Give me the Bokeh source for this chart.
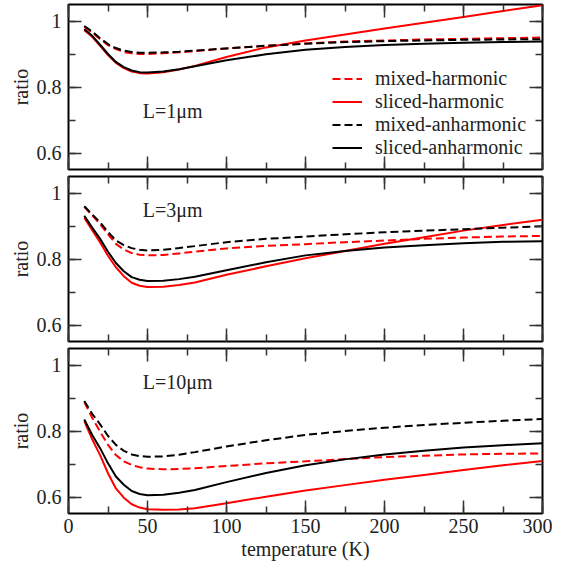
from bokeh.plotting import figure
from bokeh.layouts import column
from bokeh.models import (LinearAxis, FixedTicker, CustomJSTickFormatter, Legend,
                          LegendItem, Range1d, CustomLabelingPolicy)
from bokeh.core.properties import value
from bokeh.embed import file_html
from bokeh.resources import INLINE

# ---------------- data ----------------
temperature = [10, 15, 20, 25, 30, 35, 40, 45, 50, 60, 70, 80, 100, 125, 150,
               175, 200, 225, 250, 275, 300]

series_names = ["mixed-harmonic", "sliced-harmonic", "mixed-anharmonic", "sliced-anharmonic"]
panel_labels = ["L=1\u03bcm", "L=3\u03bcm", "L=10\u03bcm"]

# L = 1 um
L1_mixed_harmonic = [0.982, 0.965, 0.945, 0.927, 0.915, 0.906, 0.902, 0.900, 0.900, 0.902, 0.905,
                     0.909, 0.917, 0.925, 0.932, 0.938, 0.941, 0.944, 0.946, 0.948, 0.950]
L1_sliced_harmonic = [0.972, 0.952, 0.925, 0.897, 0.873, 0.857, 0.847, 0.842, 0.841, 0.845, 0.853,
                      0.864, 0.891, 0.920, 0.941, 0.959, 0.977, 0.995, 1.012, 1.030, 1.048]
L1_mixed_anharmonic = [0.985, 0.968, 0.948, 0.930, 0.918, 0.910, 0.906, 0.904, 0.904, 0.905, 0.907,
                       0.910, 0.917, 0.925, 0.931, 0.936, 0.939, 0.941, 0.943, 0.944, 0.945]
L1_sliced_anharmonic = [0.975, 0.955, 0.928, 0.900, 0.876, 0.860, 0.850, 0.845, 0.844, 0.847, 0.854,
                        0.863, 0.881, 0.899, 0.913, 0.921, 0.927, 0.931, 0.934, 0.936, 0.938]

# L = 3 um
L3_mixed_harmonic = [0.958, 0.932, 0.906, 0.875, 0.846, 0.829, 0.818, 0.813, 0.811, 0.812, 0.817,
                     0.822, 0.832, 0.840, 0.845, 0.851, 0.856, 0.861, 0.865, 0.868, 0.870]
L3_sliced_harmonic = [0.925, 0.887, 0.850, 0.810, 0.775, 0.748, 0.728, 0.719, 0.715, 0.716, 0.721,
                      0.729, 0.752, 0.778, 0.802, 0.824, 0.846, 0.866, 0.886, 0.903, 0.919]
L3_mixed_anharmonic = [0.960, 0.935, 0.911, 0.882, 0.856, 0.842, 0.833, 0.828, 0.826, 0.828, 0.833,
                       0.839, 0.851, 0.861, 0.868, 0.875, 0.881, 0.886, 0.890, 0.895, 0.899]
L3_sliced_anharmonic = [0.931, 0.895, 0.861, 0.822, 0.788, 0.763, 0.745, 0.737, 0.733, 0.734, 0.739,
                        0.746, 0.766, 0.790, 0.811, 0.824, 0.835, 0.842, 0.848, 0.852, 0.854]

# L = 10 um
L10_mixed_harmonic = [0.888, 0.840, 0.798, 0.758, 0.727, 0.708, 0.697, 0.690, 0.686, 0.684, 0.685,
                      0.687, 0.694, 0.702, 0.708, 0.715, 0.721, 0.725, 0.729, 0.731, 0.732]
L10_sliced_harmonic = [0.830, 0.775, 0.727, 0.672, 0.626, 0.598, 0.578, 0.568, 0.563, 0.561, 0.562,
                       0.566, 0.581, 0.601, 0.620, 0.636, 0.652, 0.667, 0.682, 0.696, 0.709]
L10_mixed_anharmonic = [0.891, 0.852, 0.820, 0.785, 0.758, 0.740, 0.729, 0.724, 0.722, 0.723, 0.728,
                        0.736, 0.753, 0.772, 0.788, 0.800, 0.810, 0.818, 0.825, 0.831, 0.836]
L10_sliced_anharmonic = [0.835, 0.788, 0.748, 0.702, 0.662, 0.637, 0.618, 0.609, 0.605, 0.607, 0.613,
                         0.621, 0.645, 0.673, 0.696, 0.714, 0.729, 0.740, 0.750, 0.757, 0.763]

x_ticks = [0, 50, 100, 150, 200, 250, 300]
x_minor_ticks = [0, 25, 50, 75, 100, 125, 150, 175, 200, 225, 250, 275, 300]
y_ticks = [0.6, 0.8, 1.0]
y_minor_ticks = [0.6, 0.7, 0.8, 0.9, 1.0]

panels = [
    (L1_mixed_harmonic, L1_sliced_harmonic, L1_mixed_anharmonic, L1_sliced_anharmonic),
    (L3_mixed_harmonic, L3_sliced_harmonic, L3_mixed_anharmonic, L3_sliced_anharmonic),
    (L10_mixed_harmonic, L10_sliced_harmonic, L10_mixed_anharmonic, L10_sliced_anharmonic),
]
label_pos = [(47, 0.728), (47, 0.947), (47, 0.950)]

FONT = "Liberation Serif"
FS = "20px"
TEXT_COLOR = "#222222"
TICK_COLOR = "#333333"
DASH = "8 4"
styles = [("red", DASH), ("red", "solid"), ("black", DASH), ("black", "solid")]

hide_labels = CustomLabelingPolicy(
    code="const ids = Array.from(indices); for (const i of ids) { indices.set(i, false) } return indices;")


def make_axis(ticker_major, ticker_minor, labels, axis_label=None, is_x=True):
    ax = LinearAxis(ticker=FixedTicker(ticks=ticker_major, minor_ticks=ticker_minor))
    ax.axis_line_color = None
    ax.major_tick_in = 13
    ax.major_tick_out = 0
    ax.minor_tick_in = 7
    ax.minor_tick_out = 0
    ax.major_tick_line_color = TICK_COLOR
    ax.minor_tick_line_color = TICK_COLOR
    ax.major_tick_line_width = 1.5
    ax.minor_tick_line_width = 1.5
    ax.formatter = CustomJSTickFormatter(code="return Number(tick.toFixed(1)).toString();")
    if labels:
        ax.major_label_text_font = FONT
        ax.major_label_text_font_size = FS
        ax.major_label_text_color = TEXT_COLOR
        ax.major_label_standoff = 5 if is_x else 7
    else:
        ax.major_label_text_font_size = "0px"
        ax.major_label_standoff = 0
        ax.major_label_policy = hide_labels
    if axis_label:
        ax.axis_label = axis_label
        ax.axis_label_text_font = FONT
        ax.axis_label_text_font_size = FS
        ax.axis_label_text_font_style = "normal"
        ax.axis_label_text_color = TEXT_COLOR
        ax.axis_label_standoff = 2
    return ax


figs = []
for i, (series, (lx, ly), lab) in enumerate(zip(panels, label_pos, panel_labels)):
    last = i == len(panels) - 1
    p = figure(frame_width=474, frame_height=165,
               x_range=Range1d(0, 300), y_range=Range1d(0.55, 1.05),
               x_axis_location=None, y_axis_location=None,
               output_backend="svg", toolbar_location=None,
               min_border_left=68, min_border_right=10,
               min_border_top=4,
               min_border_bottom=3 if not last else 10)
    p.xgrid.visible = False
    p.ygrid.visible = False
    p.outline_line_color = "black"
    p.outline_line_width = 2
    p.background_fill_color = "white"

    p.add_layout(make_axis(y_ticks, y_minor_ticks, True, "ratio", is_x=False), "left")
    p.add_layout(make_axis(y_ticks, y_minor_ticks, False, is_x=False), "right")
    p.add_layout(make_axis(x_ticks, x_minor_ticks, False), "above")
    if last:
        p.add_layout(make_axis(x_ticks, x_minor_ticks, True, "temperature (K)"), "below")
    else:
        p.add_layout(make_axis(x_ticks, x_minor_ticks, False), "below")

    renderers = []
    for vals, (color, dash) in zip(series, styles):
        r = p.line(temperature, vals, line_color=color, line_width=2, line_dash=dash)
        renderers.append(r)

    p.text(x=[lx], y=[ly], text=[lab], text_font=value(FONT), text_font_size=FS,
           text_baseline="middle", text_align="left", text_color=TEXT_COLOR)

    if i == 0:
        items = [LegendItem(label=n, renderers=[r]) for n, r in zip(series_names, renderers)]
        legend = Legend(items=items, location=(264, 10))
        legend.label_text_font = FONT
        legend.label_text_font_size = FS
        legend.label_text_color = TEXT_COLOR
        legend.label_height = 21
        legend.glyph_height = 21
        legend.glyph_width = 30
        legend.label_standoff = 13
        legend.spacing = 0
        legend.padding = 0
        legend.margin = 0
        legend.border_line_color = None
        legend.background_fill_alpha = 0
        p.add_layout(legend)
    figs.append(p)

layout = column(*figs, spacing=0)
open("out.html", "w").write(file_html(layout, INLINE))
